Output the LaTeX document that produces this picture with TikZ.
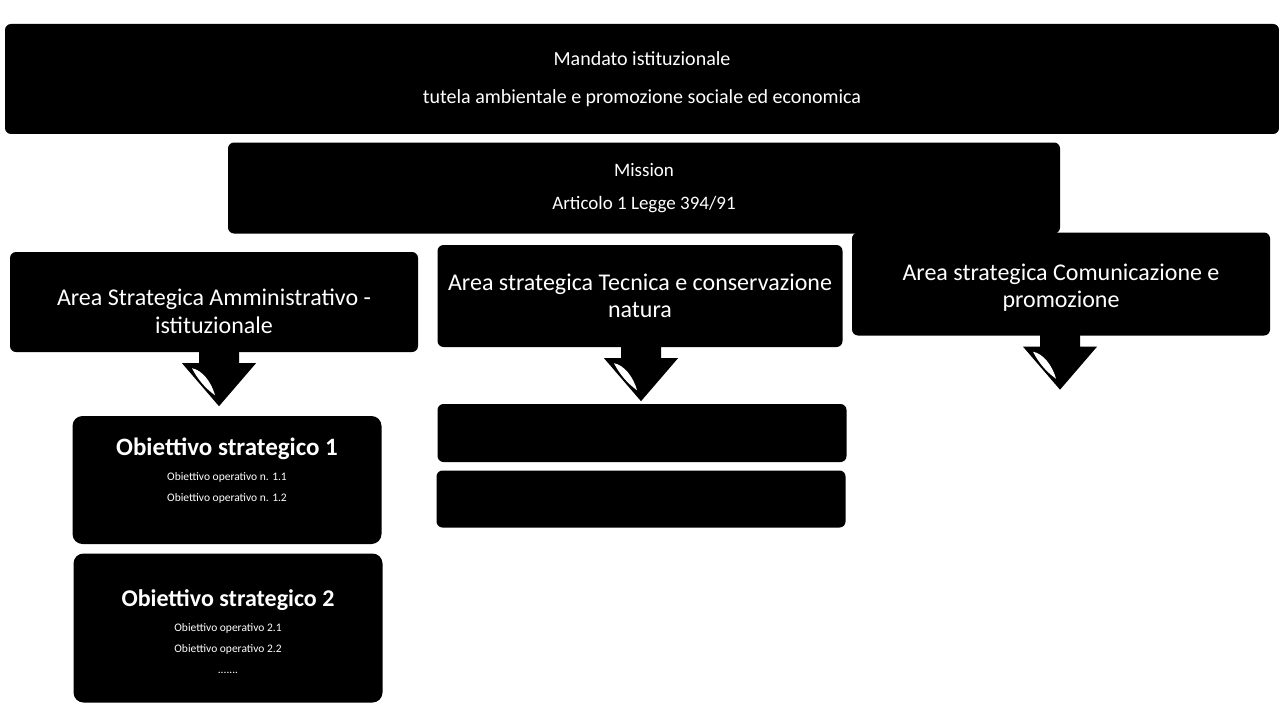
\documentclass[tikz,border=0pt]{standalone}
\usepackage{fontspec}
\setmainfont{Carlito}
\usetikzlibrary{calc}

\begin{document}
\begin{tikzpicture}[x=1pt,y=1pt,yscale=-1,xscale=1,
	blackbox/.style={fill=black,text=white,rounded corners=6pt,inner sep=0pt,align=center,font=\fontsize{24}{27}\selectfont},
	goalbox/.style={blackbox,rounded corners=10pt,minimum width=309},
	pics/downarrow/.style={code={
		\fill[black] (-20,4) -- (20,4) -- (20,-11) -- (37,-11) -- (0,-54) -- (-37,-11) -- (-20,-11) -- cycle;
		\fill[white] (-27,-16) .. controls (-17,-18) and (-8,-29) .. (-4,-43) .. controls (-14,-36) and (-22,-26) .. (-27,-16) -- cycle;
	}}]
	\useasboundingbox (0,0) rectangle (1279,706);

	%Shape: Mandato
	\node[blackbox,font=\fontsize{20}{27}\selectfont,minimum width=1274,minimum height=110] (mandato) at (642,79)
		{Mandato istituzionale\\[11pt]tutela ambientale e promozione sociale ed economica};
	%Shape: Mission
	\node[blackbox,font=\fontsize{19}{27}\selectfont,minimum width=832,minimum height=91] (mission) at (644,188)
		{Mission\\[6pt]Articolo 1 Legge 394/91};

	%Shape: Aree strategiche
	\node[blackbox,minimum width=408,minimum height=100] (areaamm) at (214,302)
		{\rule{0pt}{36pt}Area Strategica Amministrativo -\\[1pt]istituzionale};
	\node[blackbox,minimum width=405,minimum height=102] (areatec) at (640,296)
		{Area strategica Tecnica e conservazione\\[0pt]natura};
	\node[blackbox,minimum width=418,minimum height=103] (areacom) at (1061,284)
		{\rule{0pt}{24pt}Area strategica Comunicazione e\\[0pt]promozione};

	%Shape: Obiettivi strategici
	\node[goalbox,minimum height=128] (obiettivo1) at (227,480)
		{{\fontsize{25}{25}\bfseries Obiettivo strategico 1}\\[-2pt]
		 {\fontsize{11.5}{14}\selectfont Obiettivo operativo n. 1.1}\\[-6pt]
		 {\fontsize{11.5}{14}\selectfont Obiettivo operativo n. 1.2}\\[-6pt]\mbox{}};
	\node[goalbox,minimum height=149] (obiettivo2) at (228,628)
		{\rule{0pt}{24pt}{\fontsize{24}{25}\bfseries Obiettivo strategico 2}\\[-2pt]
		 {\fontsize{11.5}{14}\selectfont Obiettivo operativo 2.1}\\[-6pt]
		 {\fontsize{11.5}{14}\selectfont Obiettivo operativo 2.2}\\[-6pt]
		 {\fontsize{11.5}{14}\selectfont .......}};

	%Shape: Obiettivi area tecnica
	\node[blackbox,minimum width=409,minimum height=58] (tecnica1) at (642,433) {};
	\node[blackbox,minimum width=409,minimum height=57] (tecnica2) at (641,499) {};

	%Shape: Frecce
	\pic at ($(areaamm.south)+(5,0)$) {downarrow};
	\pic at ($(areatec.south)+(1,0)$) {downarrow};
	\pic at ($(areacom.south)+(-1,0)$) {downarrow};
\end{tikzpicture}
\end{document}
